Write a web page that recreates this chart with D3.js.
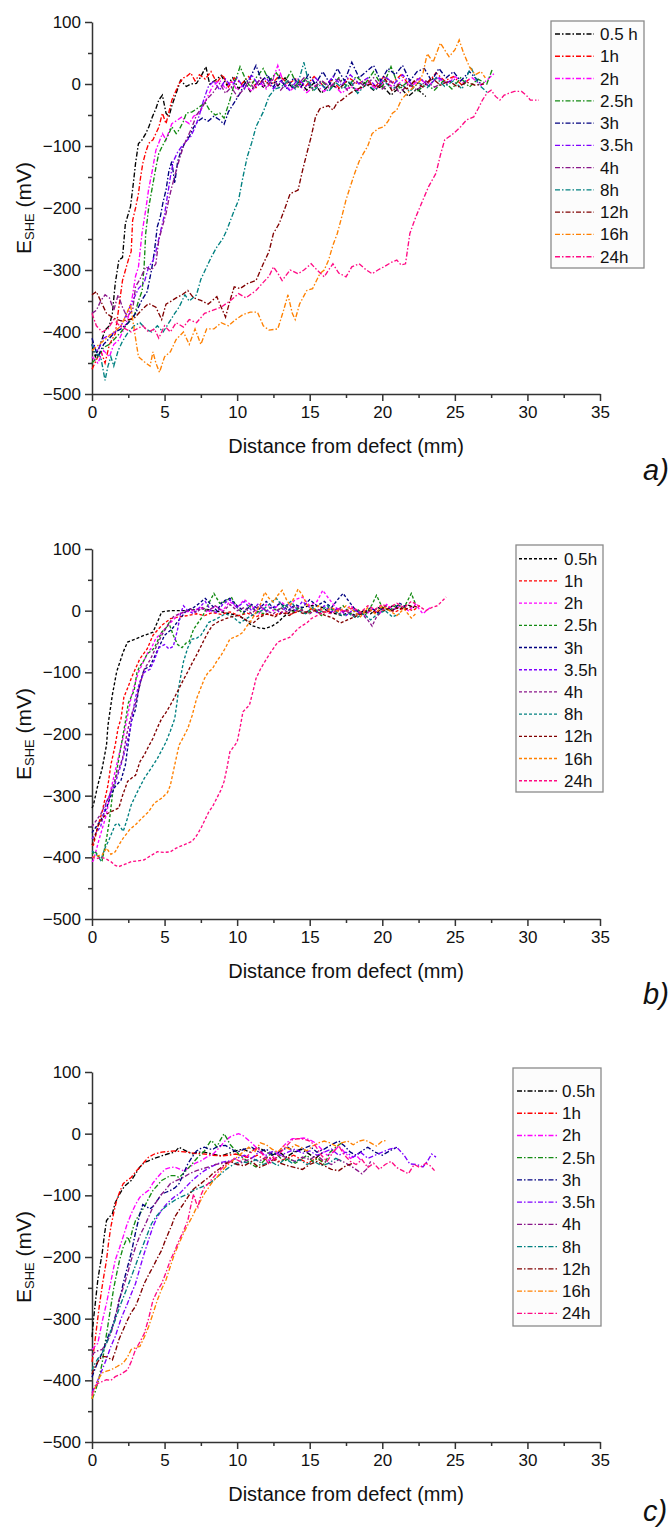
<!DOCTYPE html>
<html>
<head>
<meta charset="utf-8">
<script src="https://cdn.jsdelivr.net/npm/d3@7"></script>
<style>
	body { margin: 0; background: #fff; }
	text { font-family: "Liberation Sans", Arial, sans-serif; fill: #111; }
</style>
</head>
<body>
<svg width="670" height="1533"></svg>
<script>
// legend labels
const labelsA = ["0.5 h", "1h", "2h", "2.5h", "3h", "3.5h", "4h", "8h", "12h", "16h", "24h"];
const labelsBC = ["0.5h", "1h", "2h", "2.5h", "3h", "3.5h", "4h", "8h", "12h", "16h", "24h"];
const xTicks = [0, 5, 10, 15, 20, 25, 30, 35];
const yTicks = [100, 0, -100, -200, -300, -400, -500];

// panel a) [distance mm, E mV]
const a05 = [[0,-420],[0.23,-440],[0.5,-425],[0.9,-397],[1.2,-390],[1.4,-370],[1.6,-322],[1.85,-284],[2.1,-280],[2.3,-225],[2.65,-198],[2.85,-160],[3.0,-128],[3.2,-96],[3.4,-92],[3.7,-80],[3.9,-70],[4.16,-53],[4.4,-40],[4.6,-26],[4.85,-18],[5.1,-47],[5.3,-53],[5.5,-35],[5.8,-15],[6.1,6],[6.5,-4],[6.8,0],[7.2,1],[7.5,12],[7.85,28],[8.1,0],[8.5,6],[8.9,14],[9.3,-2],[9.7,10],[10.1,-8],[10.5,5],[10.9,-12],[11.4,3],[11.8,-5],[12.3,8],[12.8,-3],[13.3,10],[13.8,-6],[14.3,4],[14.8,-10],[15.3,2],[15.8,-15],[16.4,0],[17,-8],[17.6,5],[18.2,-12],[18.8,2],[19.4,-10],[20,-3],[20.6,-18],[21.2,-5],[21.8,-20],[22.4,-8],[23,-20]];
const a1 = [[0,-460],[0.3,-445],[0.6,-430],[0.9,-450],[1.2,-420],[1.6,-403],[1.85,-360],[2.1,-317],[2.5,-284],[2.7,-270],[2.8,-220],[3.0,-200],[3.2,-177],[3.35,-150],[3.5,-128],[3.7,-110],[3.9,-96],[4.2,-90],[4.4,-80],[4.6,-70],[4.85,-47],[5.1,-64],[5.3,-45],[5.5,-26],[5.8,-10],[6.0,1],[6.3,10],[6.5,12],[6.8,18],[7.1,5],[7.4,15],[7.8,8],[8.2,20],[8.6,2],[9.0,15],[9.4,-5],[9.8,10],[10.3,0],[10.8,12],[11.3,-6],[11.8,8],[12.3,-3],[12.9,14],[13.5,0],[14.1,9],[14.7,-4],[15.3,12],[15.9,-2],[16.5,6],[17.1,-8],[17.7,10],[18.3,0],[18.9,8],[19.5,-5],[20.1,12],[20.7,2],[21.3,15],[21.9,-3],[22.5,10],[23.1,0],[23.7,18],[24.3,5],[24.9,12],[25.5,-2],[26,8]];
const a2 = [[0,-440],[0.4,-450],[0.8,-430],[1.2,-440],[1.5,-420],[1.85,-413],[2.2,-395],[2.5,-376],[2.8,-340],[3.0,-310],[3.2,-295],[3.45,-240],[3.7,-203],[3.9,-170],[4.16,-139],[4.4,-107],[4.6,-95],[4.85,-80],[5.1,-90],[5.5,-64],[5.9,-58],[6.2,-53],[6.45,-60],[6.7,-64],[7.0,-52],[7.4,-47],[7.85,-26],[8.3,-4],[8.8,6],[9.2,-8],[9.6,5],[10.0,-10],[10.5,0],[11.0,-12],[11.5,5],[12.0,-8],[12.5,10],[12.8,30],[13.2,2],[13.7,-10],[14.2,0],[14.8,-14],[15.4,-2],[16.0,-12],[16.6,0],[17.2,-15],[17.8,-4],[18.4,-10],[19.0,2],[19.6,-8],[20.2,4],[20.8,-6],[21.4,6],[22.0,-4],[22.6,8],[23.2,-2],[23.8,10],[24.4,0],[25.0,12],[25.6,2],[26.2,10],[26.8,-2],[27.3,8],[27.7,17]];
const a25 = [[0,-450],[0.4,-440],[0.8,-425],[1.2,-420],[1.6,-410],[2.0,-400],[2.5,-385],[2.9,-375],[3.2,-350],[3.46,-333],[3.6,-290],[3.7,-241],[3.9,-200],[4.16,-166],[4.4,-135],[4.6,-112],[4.85,-100],[5.08,-90],[5.3,-80],[5.5,-69],[5.8,-80],[6.0,-74],[6.3,-60],[6.5,-47],[6.9,-45],[7.4,-37],[7.8,-30],[8.1,-42],[8.5,-50],[8.8,-47],[9.1,-55],[9.5,-26],[9.8,0],[10.2,28],[10.5,12],[10.9,-5],[11.3,10],[11.8,25],[12.2,5],[12.7,18],[13.2,0],[13.7,20],[14.2,-5],[14.7,8],[15.2,-10],[15.8,5],[16.4,-8],[17.0,10],[17.6,-5],[18.2,12],[18.8,0],[19.4,20],[20.0,-5],[20.6,28],[21.2,-8],[21.8,5],[22.4,-12],[23.0,0],[23.6,-10],[24.2,5],[24.8,-8],[25.4,10],[26.0,-5],[26.6,8],[27.2,0],[27.6,25]];
const a3 = [[0,-410],[0.4,-440],[0.8,-420],[1.2,-410],[1.6,-400],[2.0,-395],[2.5,-385],[3.0,-370],[3.4,-350],[3.8,-335],[4.1,-300],[4.3,-270],[4.5,-230],[4.7,-215],[4.9,-190],[5.1,-171],[5.3,-140],[5.5,-125],[5.7,-160],[5.9,-125],[6.1,-110],[6.4,-95],[6.7,-85],[7.0,-70],[7.3,-60],[7.6,-55],[8.0,-60],[8.4,-52],[8.8,-58],[9.1,-65],[9.4,-45],[9.8,-30],[10.2,-15],[10.5,0],[10.9,10],[11.3,30],[11.7,5],[12.1,15],[12.5,-5],[12.9,12],[13.4,-8],[13.9,10],[14.4,-5],[14.9,15],[15.4,0],[15.9,20],[16.4,0],[16.9,25],[17.4,5],[17.9,35],[18.4,10],[18.9,20],[19.4,30],[19.9,5],[20.4,25],[20.9,15],[21.4,30],[21.9,5],[22.4,20],[22.9,25],[23.4,5],[23.9,25],[24.4,10],[24.9,20],[25.4,5],[26.0,20],[26.8,0]];
const a35 = [[0,-420],[0.4,-430],[0.8,-410],[1.2,-405],[1.6,-400],[2.0,-390],[2.4,-370],[2.8,-350],[3.2,-330],[3.6,-320],[3.9,-295],[4.2,-285],[4.4,-270],[4.7,-240],[5.0,-210],[5.2,-180],[5.4,-150],[5.6,-125],[5.9,-110],[6.2,-100],[6.5,-92],[6.8,-85],[7.1,-70],[7.4,-50],[7.7,-25],[8.0,-5],[8.4,5],[8.8,-10],[9.2,8],[9.6,-5],[10.0,10],[10.5,-8],[11.0,15],[11.5,-3],[12.0,10],[12.5,-8],[13.0,5],[13.6,-10],[14.2,8],[14.8,-5],[15.4,10],[16.0,-6],[16.6,12],[17.2,-2],[17.8,15],[18.4,0],[19.0,10],[19.6,-5],[20.2,12],[20.8,0],[21.4,15],[22.0,0],[22.6,10],[23.2,-4],[23.8,12],[24.4,2],[25,8]];
const a4 = [[0,-370],[0.3,-365],[0.6,-350],[0.9,-340],[1.2,-345],[1.5,-365],[1.8,-340],[2.1,-360],[2.4,-375],[2.8,-365],[3.0,-327],[3.3,-315],[3.7,-295],[4.1,-300],[4.4,-290],[4.6,-252],[4.85,-230],[5.1,-209],[5.3,-185],[5.5,-166],[5.8,-140],[6.0,-123],[6.3,-100],[6.5,-90],[6.9,-69],[7.2,-50],[7.6,-37],[7.9,-25],[8.3,-15],[8.8,1],[9.2,-15],[9.6,-5],[10.0,-20],[10.4,-10],[10.8,5],[11.2,-8],[11.6,10],[12.0,-5],[12.5,8],[13.0,-10],[13.5,5],[14.0,-6],[14.6,10],[15.2,-8],[15.8,6],[16.4,-5],[17.0,8],[17.6,-10],[18.2,5],[18.8,-3],[19.4,10],[20.0,-8],[20.6,5],[21.2,-15],[21.8,0],[22.4,-10],[23.0,5],[23.6,-5],[24.0,0]];
const a8 = [[0,-420],[0.3,-435],[0.6,-440],[0.9,-478],[1.1,-455],[1.3,-440],[1.5,-455],[1.8,-430],[2.1,-415],[2.5,-400],[2.9,-390],[3.3,-385],[3.7,-395],[4.1,-400],[4.5,-390],[4.9,-400],[5.3,-385],[5.7,-370],[6.0,-360],[6.4,-340],[6.7,-350],[7.2,-340],[7.5,-315],[7.8,-300],[8.2,-280],[8.6,-263],[9.0,-250],[9.3,-235],[9.7,-210],[10.1,-187],[10.4,-150],[10.7,-117],[11.0,-95],[11.3,-69],[11.8,-45],[12.2,-20],[12.6,-8],[13.0,-5],[13.5,5],[14.0,-8],[14.3,10],[14.6,35],[14.9,5],[15.3,-10],[15.8,0],[16.3,-12],[16.8,2],[17.3,-8],[17.8,5],[18.3,-15],[18.9,0],[19.5,-10],[20.1,5],[20.7,-8],[21.3,0],[21.9,-12],[22.5,2],[23.1,-6],[23.7,10],[24.3,-4],[24.9,5],[25.5,-8],[26.1,28],[26.6,0],[27.3,-15]];
const a12 = [[0,-340],[0.3,-335],[0.6,-350],[1.0,-370],[1.5,-378],[2.0,-382],[2.4,-381],[2.9,-378],[3.4,-365],[3.9,-354],[4.4,-360],[4.8,-380],[5.1,-355],[5.4,-351],[5.8,-345],[6.2,-340],[6.6,-333],[7.0,-345],[7.5,-349],[8.0,-355],[8.6,-343],[8.9,-360],[9.2,-376],[9.5,-350],[9.8,-327],[10.2,-330],[10.7,-322],[11.3,-317],[11.8,-290],[12.2,-270],[12.5,-241],[12.9,-225],[13.3,-200],[13.65,-177],[14.2,-171],[14.5,-140],[14.8,-112],[15.1,-85],[15.4,-53],[15.7,-40],[16.0,-37],[16.3,-35],[16.6,-42],[16.9,-30],[17.2,-26],[17.6,-18],[18.1,-10],[18.7,-4],[19.2,0],[19.7,-5],[20.2,8],[20.7,-12],[21.2,0],[21.7,-8],[22.2,5],[22.8,-5],[23.4,10],[24.0,-2],[24.6,5],[25.2,-5],[25.8,3],[26.4,-2],[27.0,0]];
const a16 = [[0,-430],[0.5,-420],[1.0,-410],[1.5,-400],[2.0,-390],[2.4,-370],[2.65,-355],[2.9,-395],[3.2,-440],[3.6,-448],[4.0,-455],[4.2,-432],[4.4,-450],[4.65,-465],[5.0,-440],[5.4,-432],[5.8,-412],[6.3,-400],[6.7,-420],[7.1,-395],[7.5,-420],[7.9,-395],[8.4,-395],[8.9,-385],[9.4,-390],[9.9,-380],[10.4,-372],[10.9,-368],[11.4,-368],[11.8,-390],[12.2,-397],[12.8,-395],[13.2,-365],[13.5,-340],[13.8,-370],[14.0,-380],[14.3,-355],[14.8,-333],[15.2,-330],[15.7,-306],[16.0,-300],[16.3,-284],[16.6,-260],[16.9,-241],[17.2,-215],[17.5,-187],[17.8,-165],[18.1,-144],[18.4,-125],[18.7,-112],[19.0,-100],[19.3,-80],[19.7,-72],[20.1,-69],[20.4,-60],[20.7,-47],[21.0,-42],[21.3,-26],[21.7,-15],[22.2,-4],[22.6,5],[22.8,17],[23.1,49],[23.5,35],[24.0,66],[24.3,55],[24.6,44],[25.0,55],[25.3,71],[25.6,50],[26.0,28],[26.4,15],[26.8,20],[27.1,10]];
const a24 = [[0,-370],[0.3,-390],[0.7,-400],[1.1,-395],[1.5,-380],[1.9,-390],[2.3,-395],[2.7,-400],[3.1,-395],[3.5,-390],[3.9,-400],[4.3,-395],[4.6,-410],[5.0,-390],[5.4,-400],[5.8,-385],[6.3,-392],[6.7,-380],[7.2,-385],[7.75,-370],[8.3,-365],[8.9,-360],[9.5,-350],[10.1,-338],[10.6,-345],[11.3,-333],[11.8,-320],[12.2,-310],[12.5,-295],[12.8,-305],[13.1,-317],[13.65,-300],[14.2,-306],[14.6,-300],[15.1,-290],[15.5,-300],[16.0,-311],[16.3,-300],[16.6,-290],[17.0,-305],[17.5,-311],[17.9,-295],[18.4,-290],[18.9,-300],[19.3,-306],[19.7,-300],[20.1,-295],[20.6,-288],[21.0,-284],[21.3,-292],[21.6,-290],[21.9,-241],[22.3,-215],[22.8,-187],[23.2,-165],[23.7,-144],[24.0,-115],[24.3,-90],[24.6,-85],[24.9,-80],[25.4,-69],[25.8,-58],[26.3,-53],[26.6,-40],[26.9,-26],[27.2,-15],[27.5,-10],[27.8,-20],[28.1,-26],[28.4,-18],[28.7,-15],[29.1,-12],[29.6,-12],[30.0,-20],[30.2,-26],[30.8,-26]];

// panel b)
const b05 = [[0,-320],[0.1,-315],[0.4,-283],[0.7,-256],[1.0,-218],[1.1,-186],[1.4,-137],[1.7,-99],[2.15,-67],[2.45,-51],[3.0,-46],[3.6,-40],[4.2,-35],[4.5,-19],[4.8,-2],[5.4,0],[6.0,0],[6.6,0],[7.2,2],[7.75,3],[8.3,0],[8.9,-2],[9.5,-5],[10.1,-8],[10.6,-15],[11.0,-24],[11.5,-28],[11.9,-29],[12.4,-25],[12.8,-19],[13.2,-10],[13.65,-2],[14.1,3],[14.5,5],[15.0,8],[15.4,8],[15.9,5],[16.3,-2],[16.8,-5],[17.2,-8],[17.7,-3],[18.2,-8],[18.7,0],[19.2,-5],[19.7,5],[20.2,0],[20.7,8],[21.2,2],[21.7,10],[22.2,5]];
const b1 = [[0,-380],[0.1,-380],[0.4,-350],[0.7,-326],[1.1,-283],[1.3,-250],[1.6,-218],[1.8,-190],[2.0,-175],[2.2,-140],[2.45,-126],[2.7,-110],[2.9,-99],[3.3,-78],[3.8,-62],[4.2,-40],[4.8,-24],[5.4,-13],[6.0,-10],[6.6,-8],[7.2,-5],[7.75,-8],[8.3,-3],[8.9,-6],[9.5,-2],[10.1,-8],[10.7,-4],[11.3,-10],[11.9,-5],[12.5,-8],[13.1,-2],[13.7,-6],[14.3,0],[14.9,-4],[15.5,2],[16.1,-3],[16.7,3],[17.3,-2],[17.9,4],[18.5,-3],[19.1,2],[19.7,-5],[20.3,3],[20.9,-2],[21.5,5],[22.1,0],[22.6,8]];
const b2 = [[0,-407],[0.1,-405],[0.5,-370],[1.0,-330],[1.3,-290],[1.6,-260],[1.9,-230],[2.2,-200],[2.5,-165],[2.7,-140],[3.0,-115],[3.2,-100],[3.5,-85],[3.8,-70],[4.1,-60],[4.4,-45],[4.7,-38],[5.0,-30],[5.3,-22],[5.6,-15],[6.0,-5],[6.5,-2],[7.0,0],[7.5,5],[8.0,-3],[8.5,8],[9.0,0],[9.5,15],[10.0,5],[10.5,18],[11.0,8],[11.5,-5],[12.0,10],[12.5,0],[13.0,15],[13.5,5],[14.0,18],[14.5,22],[15.0,8],[15.5,15],[15.9,33],[16.3,20],[16.8,5],[17.3,-3],[17.8,8],[18.3,0],[18.8,-8],[19.3,3],[19.8,-5],[20.3,10],[20.8,2],[21.3,8],[21.8,0],[22.3,10],[22.8,-5],[23.3,5]];
const b25 = [[0,-395],[0.2,-390],[0.5,-400],[0.7,-405],[1.0,-370],[1.2,-340],[1.4,-300],[1.7,-260],[2.0,-220],[2.3,-180],[2.5,-150],[2.7,-140],[2.9,-130],[3.1,-100],[3.3,-90],[3.6,-80],[3.8,-70],[4.1,-65],[4.3,-60],[4.6,-45],[4.8,-35],[5.1,-28],[5.3,-20],[5.6,-40],[5.9,-55],[6.2,-60],[6.5,-52],[6.7,-50],[7.0,-30],[7.3,-20],[7.6,-10],[8.0,10],[8.4,28],[8.8,12],[9.2,15],[9.6,22],[10.0,5],[10.4,-5],[10.8,8],[11.3,0],[11.8,-5],[12.3,5],[12.8,0],[13.3,10],[13.8,-3],[14.3,5],[14.8,-5],[15.3,3],[15.8,-8],[16.3,5],[16.8,-2],[17.3,8],[17.8,-5],[18.3,2],[18.8,-8],[19.3,10],[19.6,25],[20.0,5],[20.5,0],[21.0,10],[21.5,5],[22.0,28],[22.3,10]];
const b3 = [[0,-360],[0.3,-350],[0.6,-340],[1.0,-320],[1.3,-300],[1.6,-285],[2.0,-275],[2.3,-250],[2.5,-215],[2.7,-180],[3.0,-160],[3.2,-130],[3.4,-110],[3.6,-95],[4.0,-90],[4.3,-75],[4.6,-60],[5.0,-40],[5.5,-30],[6.0,-15],[6.5,0],[7.0,5],[7.4,12],[7.8,20],[8.2,10],[8.6,0],[9.0,15],[9.5,20],[10.0,8],[10.5,-2],[11.0,10],[11.5,2],[12.0,15],[12.5,5],[13.0,12],[13.5,0],[14.0,10],[14.5,5],[15.0,18],[15.5,8],[16.0,15],[16.5,5],[17.0,20],[17.3,28],[17.7,15],[18.2,0],[18.7,-5],[19.2,5],[19.7,-3],[20.2,8],[20.7,0],[21.2,12],[21.7,5]];
const b35 = [[0,-370],[0.3,-360],[0.6,-350],[1.0,-310],[1.3,-295],[1.6,-280],[2.0,-250],[2.3,-225],[2.6,-195],[3.0,-140],[3.3,-115],[3.6,-100],[4.0,-95],[4.3,-80],[4.6,-60],[5.0,-55],[5.3,-62],[5.6,-58],[5.9,-30],[6.1,-5],[6.3,8],[6.6,0],[7.0,-5],[7.4,5],[7.8,15],[8.2,0],[8.6,-3],[9.0,10],[9.5,18],[10.0,5],[10.5,15],[11.0,0],[11.5,12],[12.0,-2],[12.5,8],[13.0,-5],[13.5,10],[14.0,0],[14.5,15],[15.0,5],[15.5,-3],[16.0,8],[16.5,-2],[17.0,5],[17.5,-8],[18.0,2],[18.5,-5]];
const b4 = [[0,-350],[0.3,-340],[0.6,-330],[0.9,-315],[1.2,-300],[1.5,-280],[1.8,-260],[2.1,-240],[2.4,-200],[2.7,-170],[3.0,-150],[3.3,-120],[3.6,-95],[4.0,-80],[4.4,-60],[4.8,-40],[5.2,-25],[5.6,-10],[6.0,-5],[6.4,-2],[6.8,3],[7.2,-3],[7.6,5],[8.0,0],[8.5,8],[9.0,-2],[9.5,10],[10.0,0],[10.5,5],[11.0,-5],[11.5,8],[12.0,0],[12.5,-5],[13.0,5],[13.5,-3],[14.0,8],[14.5,0],[15.0,-5],[15.5,3],[16.0,-3],[16.5,5],[17.0,-5],[17.5,0],[18.0,-8],[18.5,-3],[19.0,-15],[19.3,-25],[19.6,-10],[20.0,0]];
const b8 = [[0,-390],[0.3,-395],[0.6,-405],[0.9,-385],[1.2,-370],[1.6,-347],[1.8,-345],[2.15,-358],[2.4,-340],[2.7,-315],[3.1,-295],[3.6,-272],[4.0,-258],[4.5,-240],[5.1,-213],[5.4,-195],[5.7,-175],[5.85,-150],[6.0,-121],[6.3,-83],[6.6,-60],[6.9,-46],[7.2,-45],[7.5,-40],[8.05,-19],[8.6,-13],[9.2,-5],[9.7,-10],[10.2,-20],[10.7,-12],[11.2,-5],[11.7,0],[12.2,10],[12.7,20],[13.2,5],[13.7,15],[14.2,0],[14.7,-5],[15.2,5],[15.7,-3],[16.2,8],[16.7,0],[17.2,-8],[17.7,-5],[18.2,-12],[18.7,-5],[19.2,-15],[19.7,-5],[20.2,0],[20.7,-10],[21.2,-5]];
const b12 = [[0,-380],[0.1,-374],[0.4,-350],[0.7,-337],[1.0,-330],[1.3,-326],[1.85,-320],[2.1,-300],[2.45,-277],[2.8,-270],[3.0,-267],[3.3,-245],[3.6,-234],[3.9,-220],[4.2,-207],[4.5,-190],[4.8,-175],[5.1,-165],[5.4,-153],[5.7,-140],[6.0,-126],[6.3,-112],[6.6,-99],[6.9,-85],[7.2,-72],[7.5,-58],[7.75,-46],[8.0,-35],[8.3,-24],[8.7,-18],[9.2,-13],[9.6,-10],[10.1,-8],[10.6,-15],[11.1,-20],[11.6,-10],[12.1,-5],[12.6,-10],[13.1,-3],[13.6,-8],[14.1,0],[14.6,-5],[15.1,3],[15.6,-3],[16.1,-8],[16.6,-12],[17.1,-20],[17.6,-15],[18.1,-10],[18.6,-5],[19.1,0],[19.6,-3],[20.1,5],[20.6,0],[21.1,5],[21.6,2],[22.1,8],[22.5,5]];
const b16 = [[0,-400],[0.3,-398],[0.7,-396],[1.0,-385],[1.3,-395],[1.6,-391],[1.9,-378],[2.15,-369],[2.6,-355],[3.0,-347],[3.5,-335],[3.9,-326],[4.3,-312],[4.8,-304],[5.2,-295],[5.4,-283],[5.7,-250],[6.0,-218],[6.3,-205],[6.6,-191],[6.9,-170],[7.2,-143],[7.5,-125],[7.75,-110],[8.0,-100],[8.3,-94],[8.6,-82],[8.9,-72],[9.2,-60],[9.5,-46],[9.8,-43],[10.1,-40],[10.4,-35],[10.7,-24],[11.0,-15],[11.3,-2],[11.6,10],[11.9,30],[12.2,20],[12.5,14],[12.8,25],[13.1,33],[13.4,18],[13.65,8],[13.9,20],[14.2,35],[14.5,25],[14.8,10],[15.2,0],[15.6,8],[16.0,-3],[16.5,5],[17.0,-2],[17.5,8],[18.0,0],[18.5,-10],[19.0,5],[19.5,-5],[20.0,8],[20.5,0],[21.0,-8],[21.5,3],[22.0,-12],[22.3,-5]];
const b24 = [[0,-400],[0.3,-402],[0.7,-400],[1.0,-403],[1.3,-407],[1.6,-413],[1.85,-415],[2.2,-412],[2.7,-407],[3.1,-406],[3.6,-404],[4.0,-398],[4.5,-391],[5.0,-392],[5.4,-391],[5.8,-385],[6.3,-380],[6.9,-374],[7.2,-365],[7.5,-353],[8.05,-326],[8.3,-318],[8.6,-304],[8.9,-290],[9.1,-277],[9.3,-255],[9.5,-229],[10.0,-213],[10.2,-190],[10.4,-164],[10.85,-153],[11.1,-130],[11.3,-110],[11.6,-95],[11.9,-83],[12.3,-68],[12.8,-51],[13.2,-47],[13.65,-43],[14.2,-29],[14.5,-24],[14.8,-20],[15.1,-13],[15.5,-8],[16.0,-2],[16.5,-5],[17.0,3],[17.5,-2],[18.0,5],[18.5,-3],[19.0,8],[19.5,2],[20.0,10],[20.5,5],[21.0,12],[21.5,5],[22.0,15],[22.5,8],[23.0,0],[23.4,5],[23.8,8],[24.1,15],[24.4,22]];

// panel c)
const c05 = [[0,-330],[0.1,-302],[0.25,-270],[0.4,-237],[0.55,-215],[0.7,-194],[0.85,-165],[1.0,-141],[1.2,-135],[1.4,-130],[1.6,-112],[1.9,-98],[2.1,-90],[2.3,-84],[2.7,-76],[3.0,-65],[3.3,-54],[3.6,-47],[3.9,-44],[4.3,-40],[4.8,-36],[5.2,-33],[5.7,-30],[6.0,-22],[6.4,-27],[6.9,-33],[7.3,-30],[7.75,-30],[8.3,-33],[8.9,-36],[9.4,-32],[9.9,-28],[10.4,-25],[10.9,-30],[11.4,-22],[11.9,-28],[12.4,-35],[12.9,-30],[13.4,-38],[13.9,-30],[14.4,-25],[14.9,-32],[15.4,-40],[15.9,-30]];
const c1 = [[0,-370],[0.1,-356],[0.3,-318],[0.5,-280],[0.75,-240],[1.0,-205],[1.15,-175],[1.3,-151],[1.5,-128],[1.7,-108],[1.9,-95],[2.15,-81],[2.4,-76],[2.7,-71],[3.0,-62],[3.3,-54],[3.6,-46],[3.9,-38],[4.3,-33],[4.8,-30],[5.2,-29],[5.7,-28],[6.1,-29],[6.6,-30],[7.1,-32],[7.75,-33],[8.3,-35],[8.9,-36],[9.4,-35],[9.9,-33],[10.4,-36],[10.9,-40],[11.4,-35],[11.9,-42],[12.4,-38],[12.9,-45],[13.4,-40],[13.9,-35],[14.4,-42],[14.9,-48],[15.4,-40],[15.9,-45]];
const c2 = [[0,-350],[0.4,-340],[0.7,-305],[1.0,-275],[1.3,-240],[1.6,-205],[1.9,-185],[2.15,-167],[2.4,-148],[2.7,-130],[3.0,-115],[3.3,-103],[3.6,-97],[3.9,-92],[4.2,-80],[4.5,-71],[4.8,-63],[5.1,-57],[5.4,-55],[5.7,-54],[6.0,-57],[6.3,-60],[6.7,-55],[7.1,-48],[7.5,-44],[7.9,-38],[8.35,-33],[8.8,-22],[9.2,-11],[9.6,-4],[10.1,0],[10.4,-3],[10.7,-9],[11.0,-15],[11.3,-22],[11.7,-30],[12.2,-44],[12.6,-35],[13.0,-25],[13.4,-15],[13.8,-8],[14.2,-8],[14.6,-7],[15.0,-10],[15.4,-15],[15.8,-25],[16.2,-35],[16.6,-30],[17.0,-20],[17.4,-30],[17.8,-40],[18.2,-35],[18.6,-45]];
const c25 = [[0,-430],[0.2,-420],[0.45,-400],[0.7,-372],[1.0,-325],[1.3,-280],[1.5,-250],[1.7,-227],[1.9,-205],[2.15,-184],[2.45,-167],[2.6,-175],[2.8,-155],[3.0,-141],[3.3,-130],[3.6,-119],[3.9,-105],[4.2,-92],[4.5,-84],[4.8,-76],[5.1,-72],[5.4,-68],[5.7,-68],[6.0,-71],[6.4,-62],[6.9,-49],[7.3,-38],[7.75,-28],[8.0,-18],[8.2,-11],[8.4,-15],[8.6,-22],[8.8,-12],[9.1,0],[9.3,-8],[9.5,-17],[9.8,-25],[10.1,-33],[10.4,-40],[10.7,-44],[11.0,-50],[11.3,-54],[11.6,-50],[12.0,-40],[12.4,-30],[12.8,-35],[13.2,-45],[13.6,-40],[14.0,-48],[14.4,-42],[14.8,-35],[15.2,-45],[15.6,-40],[16.0,-50],[16.4,-30],[16.8,-22],[17.2,-15]];
const c3 = [[0,-395],[0.1,-388],[0.4,-370],[0.7,-356],[1.0,-335],[1.4,-313],[1.8,-280],[2.15,-243],[2.4,-220],[2.7,-194],[3.0,-160],[3.3,-130],[3.5,-115],[3.8,-119],[4.0,-122],[4.2,-118],[4.5,-108],[4.8,-98],[5.1,-95],[5.4,-92],[5.7,-88],[6.0,-81],[6.3,-65],[6.6,-49],[6.9,-38],[7.2,-28],[7.5,-24],[7.75,-22],[8.05,-25],[8.35,-25],[8.7,-20],[9.2,-19],[9.6,-25],[10.0,-30],[10.5,-25],[11.0,-22],[11.5,-30],[12.0,-25],[12.5,-35],[13.0,-28],[13.5,-22],[14.0,-30],[14.5,-25],[15.0,-20],[15.5,-30],[16.0,-25],[16.5,-18],[17.0,-12],[17.4,-20],[17.8,-30],[18.2,-35],[18.6,-28],[19.0,-22],[19.5,-30],[20.0,-35],[20.5,-28],[21.0,-22]];
const c35 = [[0,-420],[0.1,-415],[0.4,-400],[0.7,-383],[1.0,-365],[1.3,-345],[1.6,-329],[2.0,-300],[2.45,-275],[2.7,-260],[3.0,-243],[3.3,-218],[3.6,-194],[3.9,-172],[4.2,-151],[4.5,-135],[4.8,-124],[5.1,-115],[5.4,-108],[5.7,-102],[6.0,-98],[6.4,-88],[6.9,-76],[7.3,-68],[7.75,-60],[8.2,-54],[8.6,-49],[9.0,-46],[9.5,-44],[10.0,-40],[10.5,-35],[11.0,-40],[11.5,-30],[12.0,-35],[12.5,-28],[13.0,-35],[13.5,-30],[14.0,-25],[14.5,-32],[15.0,-28],[15.5,-35],[16.0,-30],[16.5,-25],[17.0,-35],[17.5,-30],[18.0,-38],[18.5,-30],[19.0,-40],[19.5,-35],[20.0,-30],[20.5,-25],[21.0,-22],[21.5,-35],[21.9,-49],[22.4,-50],[22.8,-54],[23.1,-45],[23.4,-33],[23.7,-38]];
const c4 = [[0,-360],[0.1,-356],[0.4,-352],[0.7,-350],[1.0,-340],[1.3,-324],[1.6,-300],[1.85,-270],[2.15,-250],[2.45,-227],[2.7,-205],[3.0,-184],[3.3,-165],[3.6,-151],[3.9,-135],[4.2,-119],[4.5,-108],[4.8,-98],[5.1,-90],[5.4,-81],[5.8,-76],[6.3,-71],[6.7,-65],[7.2,-60],[7.6,-57],[8.05,-54],[8.5,-50],[9.0,-48],[9.5,-45],[10.0,-50],[10.5,-45],[11.0,-40],[11.5,-45],[12.0,-38],[12.5,-42],[13.0,-35],[13.5,-40],[14.0,-45],[14.5,-38],[15.0,-42],[15.5,-35],[16.0,-45],[16.5,-50],[17.0,-42],[17.5,-48],[18.0,-55],[18.3,-60],[18.6,-65],[18.9,-58],[19.2,-45]];
const c8 = [[0,-385],[0.1,-377],[0.4,-365],[0.7,-356],[1.0,-340],[1.3,-320],[1.6,-302],[2.0,-275],[2.45,-248],[2.9,-220],[3.3,-194],[3.7,-170],[4.1,-146],[4.4,-135],[4.8,-124],[5.2,-116],[5.7,-108],[6.1,-103],[6.6,-98],[7.0,-92],[7.5,-87],[8.0,-82],[8.35,-76],[8.9,-65],[9.3,-57],[9.8,-49],[10.3,-45],[10.8,-48],[11.3,-42],[11.8,-50],[12.3,-45],[12.8,-52],[13.3,-40],[13.8,-48],[14.3,-42],[14.8,-50],[15.3,-45],[15.8,-52],[16.3,-48],[16.8,-40],[17.2,-45]];
const c12 = [[0,-390],[0.1,-383],[0.4,-370],[0.7,-361],[1.0,-362],[1.4,-367],[1.65,-350],[1.85,-334],[2.15,-318],[2.45,-302],[2.7,-290],[3.0,-280],[3.3,-262],[3.6,-243],[3.9,-229],[4.2,-216],[4.5,-202],[4.8,-189],[5.0,-176],[5.25,-162],[5.5,-148],[5.7,-135],[6.0,-124],[6.3,-114],[6.6,-103],[6.9,-92],[7.2,-86],[7.5,-81],[7.75,-76],[8.05,-71],[8.3,-65],[8.6,-60],[8.9,-55],[9.2,-49],[9.6,-45],[10.0,-50],[10.5,-52],[11.0,-45],[11.5,-55],[12.0,-50],[12.5,-42],[13.0,-48],[13.5,-52],[14.0,-55],[14.5,-58],[15.0,-50],[15.5,-45],[16.0,-52],[16.5,-58],[17.0,-60],[17.5,-52],[18.0,-48]];
const c16 = [[0,-430],[0.1,-420],[0.4,-400],[0.7,-388],[1.0,-385],[1.3,-383],[1.7,-378],[2.15,-372],[2.45,-362],[2.7,-350],[3.0,-347],[3.3,-345],[3.6,-330],[3.9,-313],[4.2,-292],[4.5,-270],[4.8,-252],[5.1,-237],[5.4,-215],[5.7,-194],[6.0,-178],[6.3,-162],[6.6,-148],[6.9,-135],[7.2,-120],[7.5,-108],[7.75,-97],[8.05,-87],[8.3,-78],[8.6,-71],[8.9,-62],[9.2,-54],[9.6,-45],[10.0,-38],[10.4,-30],[10.8,-22],[11.2,-30],[11.6,-15],[12.0,-18],[12.4,-25],[12.8,-30],[13.2,-20],[13.6,-25],[14.0,-18],[14.4,-22],[14.8,-28],[15.2,-20],[15.6,-15],[16.0,-12],[16.4,-15],[16.8,-20],[17.2,-15],[17.6,-12],[18.0,-18],[18.4,-12],[18.8,-10],[19.2,-15],[19.6,-20],[20.0,-12],[20.3,-11]];
const c24 = [[0,-425],[0.1,-415],[0.4,-405],[0.7,-402],[1.0,-399],[1.3,-400],[1.6,-394],[2.0,-390],[2.45,-383],[2.7,-370],[3.0,-350],[3.3,-338],[3.6,-324],[3.9,-300],[4.2,-270],[4.5,-255],[4.8,-243],[5.1,-225],[5.4,-205],[5.7,-190],[6.0,-173],[6.3,-158],[6.6,-141],[6.8,-118],[7.0,-98],[7.15,-110],[7.3,-119],[7.5,-100],[7.75,-87],[8.05,-80],[8.35,-71],[8.7,-62],[9.0,-55],[9.4,-48],[9.8,-40],[10.2,-45],[10.6,-38],[11.0,-30],[11.4,-22],[11.8,-35],[12.2,-50],[12.6,-40],[13.0,-30],[13.4,-20],[13.8,-10],[14.2,-8],[14.6,-9],[15.0,-12],[15.4,-20],[15.8,-35],[16.2,-45],[16.6,-30],[17.0,-20],[17.4,-35],[17.8,-45],[18.2,-50],[18.6,-42],[19.0,-55],[19.4,-48],[19.8,-58],[20.2,-50],[20.6,-45],[21.0,-55],[21.4,-60],[21.8,-65],[22.2,-50],[22.6,-55],[23.0,-48],[23.3,-52],[23.6,-60]];

const seriesA = [a05, a1, a2, a25, a3, a35, a4, a8, a12, a16, a24];
const seriesB = [b05, b1, b2, b25, b3, b35, b4, b8, b12, b16, b24];
const seriesC = [c05, c1, c2, c25, c3, c35, c4, c8, c12, c16, c24];

// Origin-like colours, one per time
const colours = ["#000000", "#ff0000", "#ff00ff", "#138a13", "#000080", "#7f00ff", "#8a178a", "#008080", "#800000", "#ff8000", "#ff0a84"];

const svg = d3.select("svg");

const panels = [
	{ data: seriesA, labels: labelsA, top: 22, bottom: 394, dash: "5,2,1.5,2", tag: "a)", tagY: 480,
		legend: { x: 551, y: 21, w: 93, h: 247, row0: 34, step: 22.27, l0: 555, l1: 594, tx: 600 } },
	{ data: seriesB, labels: labelsBC, top: 549, bottom: 919, dash: "3,2", tag: "b)", tagY: 1004,
		legend: { x: 516, y: 545, w: 87, h: 247, row0: 558.7, step: 22.2, l0: 519, l1: 558.5, tx: 564 } },
	{ data: seriesC, labels: labelsBC, top: 1072, bottom: 1442, dash: "5,2,1.5,2", tag: "c)", tagY: 1521,
		legend: { x: 513, y: 1068, w: 88, h: 258, row0: 1091, step: 22.23, l0: 517, l1: 557, tx: 562 } },
];

const left = 92,
	right = 600;

function drawPanel(p) {
	const x = d3.scaleLinear().domain([0, 35]).range([left, right]);
	const y = d3.scaleLinear().domain([-500, 100]).range([p.bottom, p.top]);
	const g = svg.append("g");

	// minor ticks first, majors on top
	g.append("g")
		.attr("transform", "translate(" + left + ",0)")
		.call(d3.axisLeft(y).tickValues(d3.range(-450, 100, 100)).tickSize(4).tickFormat(""))
		.call((s) => s.select(".domain").remove());
	g.append("g")
		.attr("transform", "translate(0," + p.bottom + ")")
		.call(d3.axisBottom(x).tickValues(d3.range(2.5, 35, 5)).tickSize(4).tickFormat(""))
		.call((s) => s.select(".domain").remove());

	const yAxis = g.append("g")
		.attr("transform", "translate(" + left + ",0)")
		.call(d3.axisLeft(y).tickValues(yTicks).tickSize(7).tickSizeOuter(0).tickPadding(4));
	const xAxis = g.append("g")
		.attr("transform", "translate(0," + p.bottom + ")")
		.call(d3.axisBottom(x).tickValues(xTicks).tickSize(7).tickSizeOuter(0).tickPadding(5));

	[yAxis, xAxis].forEach((a) => {
		a.selectAll("text").attr("font-size", "17px").attr("font-family", "Liberation Sans, Arial, sans-serif").attr("fill", "#111");
	});
	g.selectAll(".domain, .tick line").attr("stroke", "#333").attr("stroke-width", 1.5);

	// curves
	const line = d3.line()
		.x((d) => x(d[0]))
		.y((d) => y(d[1]));
	p.data.forEach((s, i) => {
		g.append("path")
			.datum(s)
			.attr("d", line)
			.attr("fill", "none")
			.attr("stroke", colours[i])
			.attr("stroke-width", 1.35)
			.attr("stroke-dasharray", p.dash);
	});

	// titles
	g.append("text")
		.attr("x", (left + right) / 2)
		.attr("y", p.bottom + 59)
		.attr("text-anchor", "middle")
		.attr("font-size", "20px")
		.text("Distance from defect (mm)");

	const yt = g.append("text")
		.attr("transform", "translate(31," + (p.top + p.bottom) / 2 + ") rotate(-90)")
		.attr("text-anchor", "middle")
		.attr("font-size", "21px");
	yt.append("tspan").text("E");
	yt.append("tspan").attr("font-size", "13px").attr("dy", 3).text("SHE");
	yt.append("tspan").attr("dy", -3).text(" (mV)");

	// legend
	const L = p.legend;
	g.append("rect")
		.attr("x", L.x)
		.attr("y", L.y)
		.attr("width", L.w)
		.attr("height", L.h)
		.attr("fill", "#fcfcfc")
		.attr("stroke", "#8a8a8a")
		.attr("stroke-width", 1.3);
	p.labels.forEach((lab, i) => {
		const ry = L.row0 + i * L.step;
		g.append("line")
			.attr("x1", L.l0)
			.attr("x2", L.l1)
			.attr("y1", ry)
			.attr("y2", ry)
			.attr("stroke", colours[i])
			.attr("stroke-width", 1.35)
			.attr("stroke-dasharray", p.dash);
		g.append("text")
			.attr("x", L.tx)
			.attr("y", ry + 6)
			.attr("font-size", "17px")
			.text(lab);
	});

	// panel tag
	g.append("text")
		.attr("x", 643)
		.attr("y", p.tagY)
		.attr("font-family", "Liberation Serif, Times New Roman, serif")
		.attr("font-style", "italic")
		.attr("font-size", "29px")
		.text(p.tag);
}

panels.forEach(drawPanel);
</script>
</body>
</html>
